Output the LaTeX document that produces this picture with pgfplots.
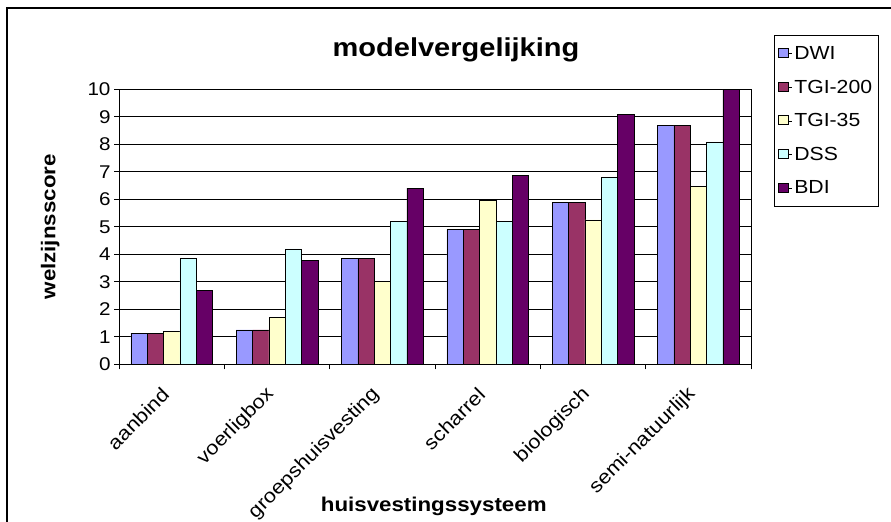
\documentclass[border=0pt]{standalone}
\usepackage{pgfplots}
\pgfplotsset{compat=1.18}
\usepackage{fontspec}
\setmainfont{Liberation Sans}[FakeStretch=1.12]
\definecolor{cDWI}{HTML}{9999FF}
\definecolor{cTGIa}{HTML}{993366}
\definecolor{cTGIb}{HTML}{FFFFCC}
\definecolor{cDSS}{HTML}{CCFFFF}
\definecolor{cBDI}{HTML}{660066}
\begin{document}
\begin{tikzpicture}[x=1bp,y=1bp]
\useasboundingbox (0,0) rectangle (891,522);
\draw[line width=1.2bp] (7,0) -- (7,514) -- (891,514);
\node[anchor=base,font=\fontsize{26}{28}\selectfont\bfseries] at (456,465) {modelvergelijking};
\begin{axis}[
  at={(119bp,157.7bp)}, anchor=south west,
  scale only axis, width=632bp, height=275bp,
  xmin=-0.5, xmax=5.5, ymin=0, ymax=10,
  ybar=0pt, bar width=0.155,
  axis line style={line width=0.9bp},
  tick pos=left,
  xtick={-0.5,0.5,...,5.5}, xticklabels={},
  extra x ticks={0,1,2,3,4,5},
  extra x tick labels={aanbind,voerligbox,groepshuisvesting,scharrel,biologisch,semi-natuurlijk},
  extra x tick style={major tick length=0pt},
  xticklabel style={font=\fontsize{19.5}{21}\selectfont, xshift=-6bp, yshift=-27bp, rotate=45, anchor=east, inner sep=0pt},
  ytick={0,1,...,10},
  yticklabel style={font=\fontsize{18.5}{20}\selectfont},
  /pgf/number format/assume math mode=true,
  tick align=outside, major tick length=5bp,
  tick style={black, line width=0.9bp},
  ymajorgrids, major grid style={black, line width=0.8bp},
  xlabel={huisvestingssysteem}, ylabel={welzijnsscore},
  every axis x label/.style={at={(axis description cs:0.498,-0.537)}, anchor=base, font=\fontsize{20}{22}\selectfont\bfseries},
  every axis y label/.style={at={(axis description cs:-0.109,0.5)}, rotate=90, anchor=center, font=\fontsize{20}{22}\selectfont\bfseries},
  every bar/.append style={draw=black, line width=1.3bp},
  legend style={at={(1.0364,1.1975)}, anchor=north west, draw=black, line width=0.8bp,
    font=\fontsize{19}{21}\selectfont, row sep=15bp, inner xsep=4bp, inner ysep=9bp,
    cells={anchor=west}},
  legend image code/.code={\path (0bp,0bp) -- (13bp,0bp); \draw[#1,draw=black,line width=1bp] (0bp,-4bp) rectangle (10bp,5bp);},
]
\addplot[fill=cDWI] coordinates {(0,1.13) (1,1.25) (2,3.85) (3,4.91) (4,5.89) (5,8.70)};
\addplot[fill=cTGIa] coordinates {(0,1.13) (1,1.25) (2,3.85) (3,4.91) (4,5.89) (5,8.70)};
\addplot[fill=cTGIb] coordinates {(0,1.19) (1,1.70) (2,3.02) (3,5.97) (4,5.25) (5,6.47)};
\addplot[fill=cDSS] coordinates {(0,3.85) (1,4.20) (2,5.19) (3,5.19) (4,6.81) (5,8.09)};
\addplot[fill=cBDI] coordinates {(0,2.68) (1,3.79) (2,6.41) (3,6.88) (4,9.08) (5,10.0)};
\legend{DWI,TGI-200,TGI-35,DSS,BDI}
\end{axis}
\end{tikzpicture}
\end{document}
